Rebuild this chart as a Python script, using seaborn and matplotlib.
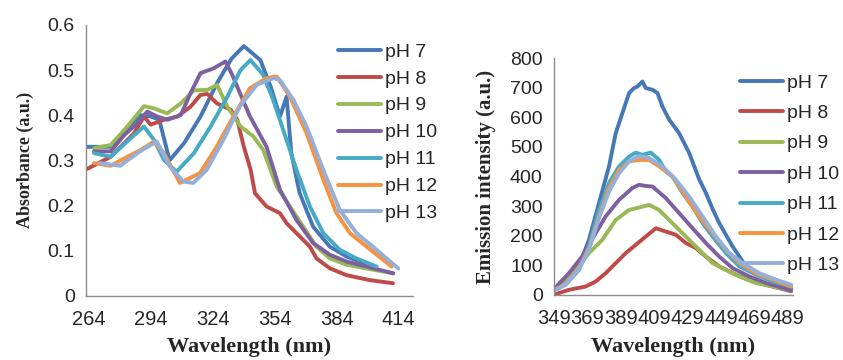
import numpy as np
import pandas as pd
import seaborn as sns
import matplotlib
matplotlib.use("Agg")
import matplotlib.pyplot as plt

labels = ["pH 7", "pH 8", "pH 9", "pH 10", "pH 11", "pH 12", "pH 13"]
colors = ["#4677B6", "#BE4B48", "#98B954", "#7D60A0", "#46AAC5", "#F69240", "#94B0DA"]

# Absorbance spectra (left panel)
abs_nm = {
    "pH 7": [263, 274, 282, 289, 294, 298, 303, 310, 318, 326, 333, 339, 347, 352, 356.5, 359.7, 362, 366, 372.6, 380.7, 388.8, 402],
    "pH 8": [263, 274.5, 285.8, 290.6, 293.8, 300.3, 306.8, 313.2, 318, 321.3, 326, 332.6, 335.8, 339, 342.3, 344.4, 350, 356.5, 359.7, 364.5, 371, 374.2, 380.7, 388.7, 400, 411.3],
    "pH 9": [266.4, 274.5, 281, 285.8, 290.6, 295.5, 301.9, 308.4, 314.8, 321.3, 326, 331, 337.4, 343.6, 348.4, 354.9, 361.3, 367.8, 374.2, 380.7, 388.8, 401.7, 411.4],
    "pH 10": [266.4, 274.5, 281, 287.4, 292.2, 297, 302, 308.4, 313.2, 318, 324.5, 330.1, 333.4, 337.1, 342, 350, 356.5, 364.5, 372.6, 380.7, 388.8, 411.4],
    "pH 11": [266.4, 274.5, 282.5, 290.6, 295.5, 300.3, 306.4, 314.8, 322.9, 331, 337.4, 342.2, 348.4, 353.2, 358.1, 364.5, 371, 377.5, 385.5, 393.6, 403.3],
    "pH 12": [266.4, 274.5, 282.5, 289, 295.5, 300.3, 308, 317.8, 325.8, 333.9, 342, 350, 354.9, 361.3, 369.4, 377.5, 383.9, 390.4, 398.5, 410.6],
    "pH 13": [269.3, 279, 288.7, 296.8, 303.2, 309.7, 314.5, 321, 329, 337, 345.2, 353.3, 356.5, 363, 369.4, 377.5, 385.5, 393.6, 403.3, 413.8],
}
abs_val = {
    "pH 7": [0.33, 0.33, 0.37, 0.40, 0.397, 0.39, 0.30, 0.338, 0.397, 0.471, 0.525, 0.553, 0.522, 0.463, 0.397, 0.441, 0.316, 0.228, 0.153, 0.109, 0.087, 0.065],
    "pH 8": [0.281, 0.308, 0.36, 0.397, 0.379, 0.39, 0.397, 0.419, 0.445, 0.447, 0.426, 0.412, 0.39, 0.33, 0.279, 0.227, 0.198, 0.183, 0.161, 0.139, 0.109, 0.083, 0.061, 0.046, 0.035, 0.028],
    "pH 9": [0.327, 0.334, 0.367, 0.393, 0.42, 0.415, 0.404, 0.426, 0.455, 0.456, 0.467, 0.419, 0.375, 0.353, 0.323, 0.242, 0.198, 0.153, 0.109, 0.083, 0.069, 0.058, 0.05],
    "pH 10": [0.32, 0.32, 0.356, 0.382, 0.408, 0.397, 0.39, 0.40, 0.449, 0.493, 0.504, 0.519, 0.489, 0.449, 0.397, 0.33, 0.235, 0.168, 0.117, 0.091, 0.076, 0.05],
    "pH 11": [0.316, 0.308, 0.342, 0.375, 0.345, 0.301, 0.275, 0.316, 0.375, 0.441, 0.50, 0.522, 0.489, 0.434, 0.367, 0.279, 0.198, 0.139, 0.102, 0.083, 0.065],
    "pH 12": [0.294, 0.288, 0.308, 0.323, 0.342, 0.316, 0.25, 0.272, 0.33, 0.397, 0.46, 0.482, 0.486, 0.441, 0.36, 0.257, 0.183, 0.139, 0.109, 0.065],
    "pH 13": [0.294, 0.288, 0.32, 0.342, 0.286, 0.253, 0.25, 0.279, 0.345, 0.419, 0.467, 0.482, 0.478, 0.434, 0.375, 0.279, 0.19, 0.139, 0.102, 0.061],
}

# Emission spectra (right panel)
em_nm = {
    "pH 7": [349, 356, 364, 370, 376, 382, 386, 390, 394, 397, 399, 402, 404, 408, 411, 414, 418, 424, 430, 436, 440, 444, 448, 456, 464, 472, 480, 491],
    "pH 8": [350, 358, 368, 374, 380, 386, 392, 398, 404, 410, 416, 422, 428, 434, 440, 448, 458, 468, 480, 491],
    "pH 9": [349, 354, 362, 370, 378, 386, 394, 400, 406, 412, 420, 428, 436, 444, 452, 460, 470, 491],
    "pH 10": [349, 358, 366, 374, 380, 388, 396, 400, 404, 408, 416, 424, 432, 440, 448, 456, 466, 476, 491],
    "pH 11": [349, 356, 364, 370, 376, 382, 388, 394, 398, 402, 407, 412, 416, 420, 426, 432, 438, 444, 452, 460, 470, 480, 491],
    "pH 12": [349, 356, 364, 370, 376, 382, 388, 394, 400, 406, 412, 420, 428, 436, 444, 452, 460, 470, 480, 491],
    "pH 13": [349, 356, 364, 370, 376, 382, 388, 394, 400, 406, 414, 422, 430, 438, 446, 454, 462, 472, 482, 491],
}
em_val = {
    "pH 7": [17, 40, 96, 186, 310, 434, 546, 614, 682, 699, 704, 721, 699, 693, 682, 636, 592, 546, 479, 390, 344, 290, 242, 163, 96, 65, 51, 23],
    "pH 8": [2, 17, 28, 45, 73, 107, 141, 169, 197, 225, 214, 203, 175, 158, 129, 96, 68, 45, 28, 12],
    "pH 9": [15, 45, 84, 141, 186, 253, 287, 295, 304, 287, 242, 197, 152, 107, 84, 62, 40, 15],
    "pH 10": [19, 73, 130, 208, 265, 321, 361, 372, 368, 366, 327, 276, 225, 175, 129, 90, 62, 40, 15],
    "pH 11": [15, 34, 84, 163, 287, 378, 434, 467, 481, 473, 481, 456, 417, 400, 344, 298, 242, 197, 141, 96, 68, 45, 28],
    "pH 12": [15, 37, 90, 158, 265, 361, 422, 451, 456, 456, 434, 400, 332, 265, 208, 152, 107, 73, 51, 28],
    "pH 13": [12, 35, 87, 152, 259, 349, 411, 451, 470, 462, 434, 389, 332, 265, 197, 141, 107, 73, 51, 34],
}


def long_df(nm, val):
    rows = []
    for lab in labels:
        for x, y in zip(nm[lab], val[lab]):
            rows.append((lab, x, y))
    return pd.DataFrame(rows, columns=["series", "nm", "val"])


sns.set_style("white")
plt.rcParams["font.family"] = ["Liberation Sans", "DejaVu Sans"]

fig = plt.figure(figsize=(8.43, 3.6), dpi=100)
ax1 = fig.add_axes([0.102, 0.178, 0.388, 0.753])
ax2 = fig.add_axes([0.657, 0.181, 0.2835, 0.6575])

pal = dict(zip(labels, colors))

sns.lineplot(data=long_df(abs_nm, abs_val), x="nm", y="val", hue="series",
             palette=pal, estimator=None, sort=False, lw=2.8, ax=ax1)
sns.lineplot(data=long_df(em_nm, em_val), x="nm", y="val", hue="series",
             palette=pal, estimator=None, sort=False, lw=2.8, ax=ax2)

ax1.set_xlim(262.5, 421)
ax1.set_ylim(0, 0.6)
ax1.set_xticks(np.arange(264, 415, 30))
ax1.set_yticks(np.arange(0, 0.61, 0.1))
ax1.set_yticklabels(["0", "0.1", "0.2", "0.3", "0.4", "0.5", "0.6"])

ax2.set_xlim(349, 492)
ax2.set_ylim(0, 800)
ax2.set_xticks(np.arange(349, 490, 20))
ax2.set_yticks(np.arange(0, 801, 100))

for ax in (ax1, ax2):
    for s in ("top", "right"):
        ax.spines[s].set_visible(False)
    for s in ("left", "bottom"):
        ax.spines[s].set_color("#8c8c8c")
        ax.spines[s].set_linewidth(1.0)
    ax.tick_params(length=0, labelsize=14)
    ax.tick_params(axis="x", pad=10, labelsize=14.5)
    ax.tick_params(axis="y", pad=8)
    ax.set_xlabel("Wavelength (nm)", family="Liberation Serif", weight="bold", size=16)

ax1.set_ylabel("Absorbance (a.u.)", family="Liberation Serif", weight="bold", size=13)
ax2.set_ylabel("Emission intensity (a.u.)", family="Liberation Serif", weight="bold", size=15)
ax1.yaxis.set_label_coords((34 - 86) / 327, 0.5)
ax2.yaxis.set_label_coords((496 - 554) / 239, 0.5)
ax1.xaxis.set_label_coords(0.5, -(337 - 296) / 271)
ax2.xaxis.set_label_coords(0.5, -(337 - 295) / 237)

ax1.legend(loc="upper left", bbox_to_anchor=(338 / 843, 1 - 43 / 360),
           bbox_transform=fig.transFigure, frameon=False, fontsize=14,
           handlelength=2.2, handletextpad=0.2, labelspacing=0.48,
           borderpad=0, borderaxespad=0)
ax2.legend(loc="upper left", bbox_to_anchor=(740 / 843, 1 - 74 / 360),
           bbox_transform=fig.transFigure, frameon=False, fontsize=14,
           handlelength=2.2, handletextpad=0.2, labelspacing=0.66,
           borderpad=0, borderaxespad=0)

fig.savefig("out.png", dpi=100)
